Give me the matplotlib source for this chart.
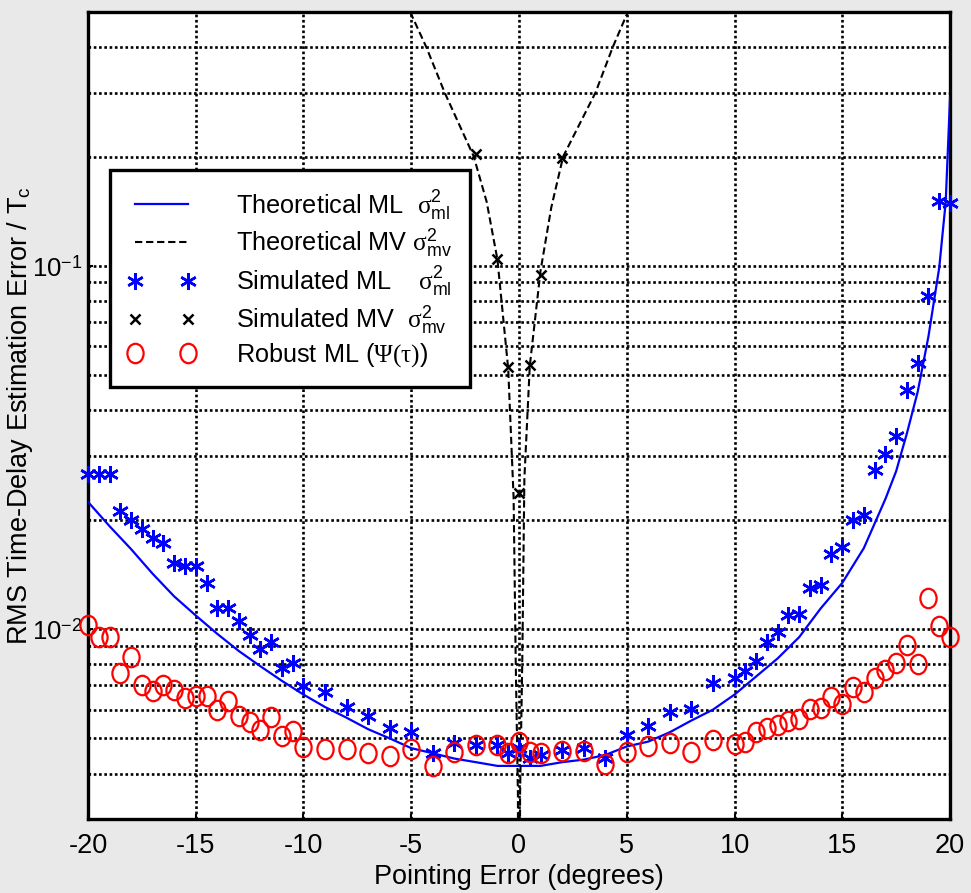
import numpy as np
import matplotlib
matplotlib.use('Agg')
import matplotlib.pyplot as plt
from matplotlib.path import Path
from matplotlib.ticker import LogLocator, NullFormatter, FixedLocator, FuncFormatter

plt.rcParams['font.family'] = 'Liberation Sans'
plt.rcParams['axes.unicode_minus'] = False
plt.rcParams['mathtext.fontset'] = 'custom'
plt.rcParams['mathtext.rm'] = 'Liberation Serif'
plt.rcParams['mathtext.it'] = 'Liberation Serif:italic'
plt.rcParams['mathtext.sf'] = 'Liberation Sans'
plt.rcParams['mathtext.default'] = 'rm'

# theoretical curves
theo_ml_x = [-20, -19, -18, -17, -16, -15, -14, -13, -12, -11, -10, -9, -8, -7, -6,
             -5, -4, -3, -2, -1, 0, 1, 2, 3, 4, 5, 6, 7, 8, 9, 10, 11, 12, 13, 14,
             15, 16, 17, 17.5, 18, 18.5, 19, 19.5, 19.8, 20]
theo_ml = [0.0224, 0.0192, 0.0166, 0.0142, 0.0123, 0.0109, 0.0097, 0.0087, 0.0079,
           0.0072, 0.0066, 0.0061, 0.0057, 0.0053, 0.0050, 0.0047, 0.00455, 0.0044,
           0.0043, 0.0042, 0.0042, 0.0042, 0.0043, 0.00437, 0.0045, 0.00475, 0.0049,
           0.0052, 0.0056, 0.0060, 0.0066, 0.0074, 0.0083, 0.0095, 0.0114, 0.0134,
           0.0167, 0.0228, 0.0272, 0.0346, 0.045, 0.064, 0.099, 0.15, 0.29]

theo_mv_x = [-5.05, -4.3, -3.45, -2.1, -1.5, -1, -0.5, -0.25, -0.15, -0.05, 0,
             0.05, 0.15, 0.25, 0.5, 1, 1.5, 2.05, 3.55, 4.35, 5.05]
theo_mv = [0.5, 0.4, 0.3, 0.2, 0.15, 0.104, 0.052, 0.023, 0.008, 0.0035, 1e-4,
           0.0035, 0.008, 0.026, 0.053, 0.097, 0.145, 0.2, 0.3, 0.4, 0.5]

# simulated points
sim_x = [-20, -19.5, -19, -18.5, -18, -17.5, -17, -16.5, -16, -15.5, -15, -14.5,
         -14, -13.5, -13, -12.5, -12, -11.5, -11, -10.5, -10,
         -9, -8, -7, -6, -5, -4, -3, -2, -1, -0.5, 0, 0.5,
         1, 2, 3, 4, 5, 6, 7, 8, 9,
         10, 10.5, 11, 11.5, 12, 12.5, 13, 13.5, 14, 14.5, 15, 15.5, 16, 16.5,
         17, 17.5, 18, 18.5, 19, 19.5, 20]
sim_ml = [0.0268, 0.0268, 0.0268, 0.0212, 0.0200, 0.0189, 0.0178, 0.0173, 0.0152,
          0.0149, 0.0149, 0.0134, 0.0114, 0.0114, 0.0105, 0.00963, 0.00881, 0.00923,
          0.00783, 0.00808, 0.00695,
          0.00673, 0.00612, 0.00575, 0.00533, 0.00520, 0.00455, 0.00486, 0.00480,
          0.00480, 0.00455, 0.00470, 0.00442,
          0.00451, 0.00466, 0.00470, 0.00442, 0.00510, 0.00541, 0.00590, 0.00602, 0.00712,
          0.00732, 0.00768, 0.00817, 0.00919, 0.00983, 0.01093, 0.01098, 0.01294,
          0.01321, 0.01614, 0.01683, 0.0200, 0.02065, 0.02746, 0.0303, 0.0339, 0.0454,
          0.0539, 0.0828, 0.1509, 0.149]
robust_ml = [0.01025, 0.00952, 0.00952, 0.00759, 0.00836, 0.00702, 0.00677, 0.00702,
             0.00680, 0.00646, 0.00655, 0.00655, 0.00599, 0.00632, 0.00575, 0.00553,
             0.00528, 0.00572, 0.00508, 0.00523, 0.00473,
             0.00467, 0.00467, 0.00457, 0.00448, 0.00467, 0.00421, 0.00458, 0.00480,
             0.00480, 0.00455, 0.00490, 0.00460,
             0.00457, 0.00462, 0.00462, 0.00426, 0.00460, 0.00475, 0.00485, 0.00460, 0.00496,
             0.00483, 0.00490, 0.00522, 0.00533, 0.00544, 0.00560, 0.00565, 0.00602,
             0.00606, 0.00652, 0.00622, 0.00694, 0.00673, 0.00733, 0.00771, 0.00808,
             0.00903, 0.00801, 0.01214, 0.01019, 0.00952]

sim_mv_x = [-2, -1, -0.5, 0, 0.5, 1, 2]
sim_mv = [0.203, 0.1045, 0.0528, 0.0237, 0.0534, 0.0945, 0.198]

x_ticks = [-20, -15, -10, -5, 0, 5, 10, 15, 20]

# slightly tall open circle
circ = Path.unit_circle()
oval = Path(circ.vertices * np.array([1.0, 1.2]), circ.codes)
asterisk = (6, 2, 0)

fs = 19.5

fig = plt.figure(figsize=(9.71, 8.93), dpi=100)
fig.patch.set_facecolor('#e9e9e9')
ax = fig.add_axes([0.0906, 0.0829, 0.8878, 0.9037])
ax.set_facecolor('white')

l1, = ax.plot(theo_ml_x, theo_ml, color='#0000ff', lw=1.6, zorder=3)
l2, = ax.plot(theo_mv_x, theo_mv, color='black', lw=1.5, dashes=(3.5, 1.8), zorder=3)
l3, = ax.plot(sim_x, sim_ml, ls='none', marker=asterisk, ms=12, mew=1.8,
              color='#0000ff', clip_on=False, zorder=4)
l4, = ax.plot(sim_mv_x, sim_mv, ls='none', marker='x', ms=6.5, mew=1.8,
              color='black', zorder=4)
l5, = ax.plot(sim_x, robust_ml, ls='none', marker=oval, ms=14, mew=1.6,
              mfc='none', mec='#ff0000', clip_on=False, zorder=5)

ax.set_yscale('log')
ax.set_xlim(-20, 20)
ax.set_ylim(3e-3, 0.5)
ax.xaxis.set_major_locator(FixedLocator(x_ticks))
ax.yaxis.set_major_locator(LogLocator(base=10))
ax.yaxis.set_major_formatter(FuncFormatter(
    lambda v, pos: r'$\mathsf{10}^{\mathsf{-%d}}$' % round(-np.log10(v))))
ax.yaxis.set_minor_locator(LogLocator(base=10, subs=np.arange(2, 10)))
ax.yaxis.set_minor_formatter(NullFormatter())

grid_kw = dict(color='black', lw=1.9, linestyle=(0, (1, 1)))
ax.grid(True, which='major', axis='both', **grid_kw)
ax.grid(True, which='minor', axis='y', **grid_kw)
ax.set_axisbelow(True)

ax.tick_params(which='both', direction='in', width=1.5)
ax.tick_params(axis='x', pad=10, labelsize=fs)
ax.tick_params(axis='y', pad=4, labelsize=18.5)
for s in ax.spines.values():
    s.set_linewidth(2.4)

ax.set_xlabel('Pointing Error (degrees)', fontsize=fs, labelpad=4)
ax.set_ylabel(r'RMS Time-Delay Estimation Error / $\mathsf{T}_\mathsf{c}$',
              fontsize=fs)
ax.yaxis.set_label_coords(-0.062, 0.5)

labels = [r'Theoretical ML  $\sigma^\mathsf{2}_\mathsf{ml}$',
          r'Theoretical MV $\sigma^\mathsf{2}_\mathsf{mv}$',
          r'Simulated ML    $\sigma^\mathsf{2}_\mathsf{ml}$',
          r'Simulated MV  $\sigma^\mathsf{2}_\mathsf{mv}$',
          r'Robust ML ($\Psi(\tau)$)']
leg = ax.legend([l1, l2, l3, l4, l5], labels, loc='upper left',
                bbox_to_anchor=(0.0255, 0.804), borderaxespad=0, fontsize=18.2,
                numpoints=2, handlelength=2.7, handletextpad=1.6,
                labelspacing=0.22, borderpad=0.7, fancybox=False,
                edgecolor='black', framealpha=1)
leg.get_frame().set_linewidth(2.4)
leg.set_zorder(10)

fig.savefig('out.png', dpi=100, facecolor=fig.get_facecolor())
